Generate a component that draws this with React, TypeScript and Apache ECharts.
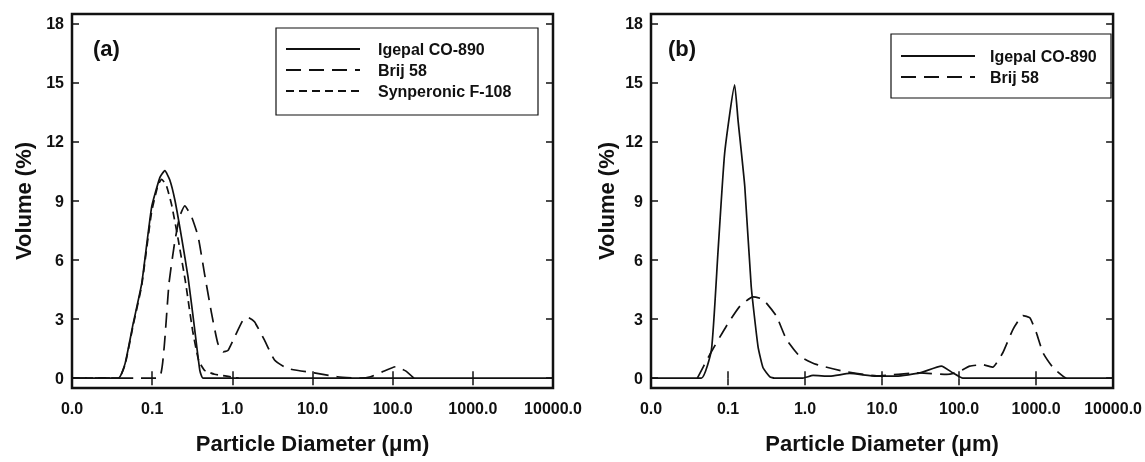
import React, { useEffect, useRef } from "react";
import * as echarts from "echarts";

// ---------- data ----------
const yTicks = [0, 3, 6, 9, 12, 15, 18];
const seriesNames = ["Igepal CO-890", "Brij 58", "Synperonic F-108"];
const xTitle = "Particle Diameter (\u03bcm)";
const yTitle = "Volume (%)";

// panel (a)
const aIgepalD = [0.01, 0.038, 0.046, 0.058, 0.074, 0.0986, 0.125, 0.144, 0.166, 0.192, 0.232, 0.28, 0.34, 0.393, 0.432, 10000];
const aIgepalV = [0, 0, 0.75, 2.78, 4.8, 8.7, 10.2, 10.54, 10.07, 9.05, 7.18, 5.15, 2.44, 0.4, 0, 0];

const aBrijD = [0.01, 0.12, 0.14, 0.162, 0.19, 0.22, 0.255, 0.31, 0.375, 0.45, 0.55, 0.66, 0.77, 0.88, 1.07, 1.36, 1.57, 1.89, 2.52, 3.36, 4.9, 10.5, 20.4, 40, 53, 74, 109, 145, 184];
const aBrijV = [0, 0, 1.42, 4.8, 6.85, 8.2, 8.75, 8.2, 7.18, 5.3, 3.3, 1.76, 1.34, 1.4, 2.1, 2.95, 3.08, 2.86, 1.93, 0.92, 0.49, 0.27, 0.07, 0, 0.07, 0.32, 0.58, 0.37, 0];

const aSynD = [0.01, 0.038, 0.046, 0.058, 0.074, 0.098, 0.118, 0.131, 0.15, 0.175, 0.21, 0.26, 0.32, 0.38, 0.45, 0.6, 0.85, 1.2];
const aSynV = [0, 0, 0.7, 2.7, 4.7, 8.4, 9.8, 10.1, 9.8, 8.8, 7.1, 4.9, 2.4, 0.9, 0.4, 0.2, 0.1, 0];

// panel (b)
const bIgepalD = [0.01, 0.045, 0.061, 0.074, 0.0905, 0.122, 0.135, 0.165, 0.2, 0.245, 0.285, 0.35, 0.4, 0.94, 1.27, 2.1, 3.8, 8.4, 15.4, 31, 59, 83, 112, 10000];
const bIgepalV = [0, 0, 1.46, 6.37, 11.44, 14.9, 13.1, 9.75, 4.67, 1.62, 0.53, 0.07, 0, 0, 0.14, 0.1, 0.24, 0.1, 0.1, 0.27, 0.61, 0.27, 0, 0];

const bBrijD = [0.04, 0.058, 0.095, 0.142, 0.211, 0.285, 0.425, 0.575, 0.85, 1.4, 3.1, 8.5, 31, 69, 93, 138, 204, 274, 370, 500, 675, 830, 1010, 1230, 1660, 2230, 2460];
const bBrijV = [0, 1.2, 2.64, 3.65, 4.13, 4.0, 3.15, 1.96, 1.12, 0.7, 0.36, 0.12, 0.27, 0.19, 0.27, 0.61, 0.68, 0.56, 1.29, 2.47, 3.18, 3.07, 2.3, 1.29, 0.53, 0.1, 0];

const pairs = (d: number[], v: number[]) => d.map((x, i) => [x, v[i]]);

export default function App() {
  const ref = useRef<HTMLDivElement>(null);
  useEffect(() => {
    if (!ref.current) return;
    const chart = echarts.init(ref.current, null, { renderer: "svg" });
    const font = '"Liberation Sans", Arial, Helvetica, sans-serif';
    const black = "#111";
    const grids = [
      { left: 72, top: 14, width: 481, height: 374 },
      { left: 651, top: 14, width: 463, height: 374 },
    ];
    const tickStyle = { color: black, width: 1.5 };
    const labelStyle = { fontFamily: font, fontWeight: "bold" as const, fontSize: 16, color: black };
    const nameStyle = { fontFamily: font, fontWeight: "bold" as const, fontSize: 22, color: black };

    const xAxes: any[] = [];
    const yAxes: any[] = [];
    grids.forEach((g, gi) => {
      xAxes.push({
        type: "log", logBase: 10, gridIndex: gi, min: 0.01, max: 10000, position: "bottom",
        axisLine: { show: false },
        axisTick: { inside: true, length: 7, lineStyle: tickStyle },
        minorTick: { show: false }, splitLine: { show: false },
        axisLabel: { ...labelStyle, margin: 12, formatter: (v: number) => Number(v).toFixed(1) },
        name: xTitle, nameLocation: "middle", nameGap: 44, nameTextStyle: nameStyle,
      });
      xAxes.push({
        type: "log", logBase: 10, gridIndex: gi, min: 0.01, max: 10000, position: "top",
        axisLine: { show: false },
        axisTick: { inside: true, length: 7, lineStyle: tickStyle },
        minorTick: { show: false }, splitLine: { show: false },
        axisLabel: { show: false },
      });
      yAxes.push({
        type: "value", gridIndex: gi, min: -0.5, max: 18.5, position: "left",
        axisLine: { show: false }, splitLine: { show: false },
        axisTick: { inside: true, length: 7, lineStyle: tickStyle, customValues: yTicks },
        axisLabel: { ...labelStyle, margin: 8, customValues: yTicks },
        name: yTitle, nameLocation: "middle", nameGap: gi === 0 ? 38 : 34, nameTextStyle: nameStyle,
      });
      yAxes.push({
        type: "value", gridIndex: gi, min: -0.5, max: 18.5, position: "right",
        axisLine: { show: false }, splitLine: { show: false },
        axisTick: { inside: true, length: 7, lineStyle: tickStyle, customValues: yTicks },
        axisLabel: { show: false },
      });
    });

    const styles: Record<string, any> = {
      "Igepal CO-890": "solid",
      "Brij 58": [15, 8],
      "Synperonic F-108": [8, 5],
    };
    const mk = (name: string, gi: number, d: number[], v: number[]) => ({
      type: "line", name, xAxisIndex: gi * 2, yAxisIndex: gi * 2,
      data: pairs(d, v), symbol: "none", smooth: 0.15,
      lineStyle: { color: black, width: 1.7, type: styles[name] },
      itemStyle: { color: black },
    });

    const legendCommon = {
      orient: "vertical", itemWidth: 74, itemHeight: 16, itemGap: 5, padding: 0,
      selectedMode: false,
      itemStyle: { opacity: 0, color: "transparent", borderWidth: 0 },
    };

    chart.setOption({
      animation: false,
      grid: grids.map((g) => ({ ...g, show: true, borderColor: black, borderWidth: 2.5, backgroundColor: "transparent" })),
      xAxis: xAxes,
      yAxis: yAxes,
      legend: [
        { ...legendCommon, left: 285, top: 41, data: seriesNames,
          textStyle: { ...labelStyle, lineHeight: 16, padding: [0, 0, 0, 13] } },
        { ...legendCommon, left: 900, top: 48, data: seriesNames.slice(0, 2),
          textStyle: { ...labelStyle, lineHeight: 16, padding: [0, 0, 0, 10] } },
      ],
      graphic: [
        { type: "rect", shape: { x: 276, y: 28, width: 262, height: 87 }, style: { fill: "none", stroke: black, lineWidth: 1.2 } },
        { type: "rect", shape: { x: 891, y: 34, width: 220, height: 64 }, style: { fill: "none", stroke: black, lineWidth: 1.2 } },
        { type: "text", x: 93, y: 48, style: { text: "(a)", font: `bold 22px ${font}`, fill: black, verticalAlign: "middle" } },
        { type: "text", x: 668, y: 48, style: { text: "(b)", font: `bold 22px ${font}`, fill: black, verticalAlign: "middle" } },
      ],
      series: [
        mk("Igepal CO-890", 0, aIgepalD, aIgepalV),
        mk("Brij 58", 0, aBrijD, aBrijV),
        mk("Synperonic F-108", 0, aSynD, aSynV),
        mk("Igepal CO-890", 1, bIgepalD, bIgepalV),
        mk("Brij 58", 1, bBrijD, bBrijV),
      ],
    });
    return () => chart.dispose();
  }, []);
  return <div ref={ref} style={{ position: "fixed", left: 0, top: 0, width: 1145, height: 462 }} />;
}
